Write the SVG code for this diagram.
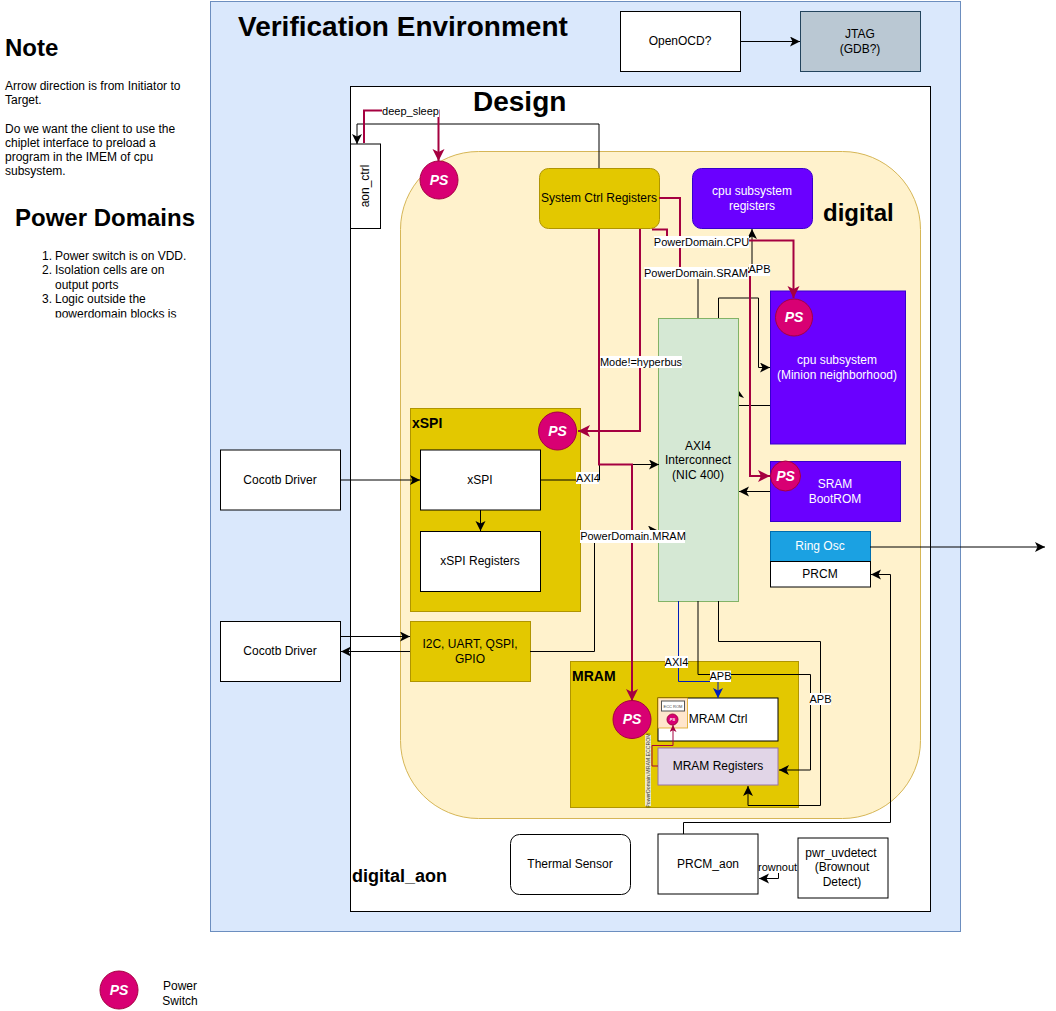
<svg xmlns="http://www.w3.org/2000/svg" width="1056" height="1011" viewBox="0 0 1056 1011">
<defs>
<marker id="a" markerUnits="userSpaceOnUse" markerWidth="12" markerHeight="12" refX="10" refY="5" orient="auto"><path d="M0 0L10 5L0 10L2.500 5Z" fill="#000"/></marker>
<marker id="ab" markerUnits="userSpaceOnUse" markerWidth="12" markerHeight="12" refX="10" refY="5" orient="auto"><path d="M0 0L10 5L0 10L2.500 5Z" fill="#001DBC"/></marker>
<marker id="r" markerUnits="userSpaceOnUse" markerWidth="14" markerHeight="14" refX="12" refY="6" orient="auto"><path d="M0 0L12 6L0 12L3 6Z" fill="#A50040"/></marker>
<marker id="rs" markerUnits="userSpaceOnUse" markerWidth="8" markerHeight="8" refX="7" refY="3.500" orient="auto"><path d="M0 0L7 3.500L0 7L1.800 3.500Z" fill="#A50040"/></marker>
<clipPath id="list-clip"><rect x="0" y="240" width="210" height="77.500"/></clipPath>
</defs>
<style>
text{font-family:"Liberation Sans",Arial,sans-serif;font-size:12px;fill:#000;text-anchor:middle}
.h{font-weight:bold;text-anchor:start}
.w{fill:#fff}
.s{text-anchor:start}
.k{fill:none;stroke:#000;stroke-width:1}
.b{fill:#fff;stroke:#000;stroke-width:1}
.y{fill:#e3c800;stroke:#B09500;stroke-width:1}
.p{fill:#6a00ff;stroke:#3700CC;stroke-width:1}
.r{fill:none;stroke:#A50040;stroke-width:2}
.lb{fill:#fff}
.l{font-size:11px}
.ps{fill:#d80073;stroke:#A50040;stroke-width:1}
.pt{fill:#fff;font-weight:bold;font-style:italic;font-size:14px}
</style>
<g id="verification-env"><rect x="210.500" y="1.500" width="750" height="930" fill="#dae8fc" stroke="#6c8ebf"/><text class="h" x="238" y="36" style="font-size:28px">Verification Environment</text></g>
<g id="design"><rect x="350.500" y="86.500" width="580" height="825" fill="#fff" stroke="#000"/><text class="h" x="473" y="111" style="font-size:28px">Design</text></g>
<g id="digital"><rect x="400.500" y="151.500" width="520" height="667" rx="78" fill="#fff2cc" stroke="#d6b656"/><text class="h" x="823" y="221" style="font-size:24px">digital</text></g>
<text class="h" x="352" y="882" style="font-size:18px">digital_aon</text>

<g id="note"><text class="h" x="5" y="56" style="font-size:24px">Note</text>
<text class="s" x="5" y="90">Arrow direction is from Initiator to</text><text class="s" x="5" y="104">Target.</text>
<text class="s" x="5" y="133">Do we want the client to use the</text><text class="s" x="5" y="147">chiplet interface to preload a</text><text class="s" x="5" y="161">program in the IMEM of cpu</text><text class="s" x="5" y="175">subsystem.</text></g>
<g id="power-domains"><text class="h" x="15" y="226" style="font-size:24px">Power Domains</text>
<g clip-path="url(#list-clip)">
<text class="s" x="42" y="260">1.<tspan x="55">Power switch is on VDD.</tspan></text><text class="s" x="42" y="274">2.<tspan x="55">Isolation cells are on</tspan></text><text class="s" x="55" y="289">output ports</text><text class="s" x="42" y="303">3.<tspan x="55">Logic outside the</tspan></text><text class="s" x="55" y="318">powerdomain blocks is</text></g></g>

<g id="openocd"><rect class="b" x="620.500" y="11.500" width="120" height="60"/><text x="680" y="45">OpenOCD?</text></g>
<g id="jtag"><rect x="800.500" y="11.500" width="120" height="60" fill="#bac8d3" stroke="#23445d"/><text x="860" y="38">JTAG</text><text x="860" y="53">(GDB?)</text></g>
<g id="aon-ctrl"><rect class="b" x="350.500" y="144" width="30" height="84.500"/><text transform="translate(369 186) rotate(-90)">aon_ctrl</text></g>
<g id="sys-ctrl"><rect class="y" x="539.500" y="168.500" width="120" height="60" rx="9"/><text x="599" y="202">System Ctrl Registers</text></g>
<g id="cpu-regs"><rect class="p" x="692.500" y="168.500" width="120" height="60" rx="9"/><text class="w" x="752" y="195">cpu subsystem</text><text class="w" x="752" y="210">registers</text></g>
<g id="cpu"><rect class="p" x="770.500" y="291" width="135" height="153"/><text class="w" x="837" y="364">cpu subsystem</text><text class="w" x="837" y="379">(Minion neighborhood)</text></g>
<g id="sram"><rect class="p" x="770.500" y="461.500" width="130" height="60"/><text class="w" x="835" y="488">SRAM</text><text class="w" x="835" y="503">BootROM</text></g>
<g id="ring-osc"><rect x="770.500" y="531.500" width="100" height="30" fill="#1ba1e2" stroke="#006EAF"/><text class="w" x="820" y="550">Ring Osc</text></g>
<g id="prcm"><rect class="b" x="770.500" y="561.500" width="100" height="25.500"/><text x="820" y="578">PRCM</text></g>
<g id="axi"><rect x="658.500" y="318.500" width="80" height="283" fill="#d5e8d4" stroke="#82b366"/><text x="698" y="450">AXI4</text><text x="698" y="464">Interconnect</text><text x="698" y="479">(NIC 400)</text></g>
<g id="xspi-block"><rect class="y" x="410.500" y="408.500" width="170" height="203"/><text class="h" x="412" y="428" style="font-size:14px">xSPI</text></g>
<g id="xspi"><rect class="b" x="420.500" y="450" width="120" height="60"/><text x="480" y="484">xSPI</text></g>
<g id="xspi-regs"><rect class="b" x="420.500" y="531.500" width="120" height="60"/><text x="480" y="565">xSPI Registers</text></g>
<g id="cocotb-1"><rect class="b" x="220.500" y="450" width="120" height="60"/><text x="280" y="484">Cocotb Driver</text></g>
<g id="cocotb-2"><rect class="b" x="220.500" y="621.500" width="120" height="60"/><text x="280" y="655">Cocotb Driver</text></g>
<g id="periph"><rect class="y" x="410.500" y="621.500" width="120" height="60"/><text x="470" y="648">I2C, UART, QSPI,</text><text x="470" y="663">GPIO</text></g>
<g id="mram-block"><rect class="y" x="570.500" y="661.500" width="228" height="146"/><text class="h" x="572" y="681" style="font-size:14px">MRAM</text></g>
<g id="mram-ctrl"><rect class="b" x="658" y="698" width="120" height="43"/><text x="718" y="723">MRAM Ctrl</text></g>
<g id="ecc-box"><rect x="658" y="698" width="29.500" height="30" fill="#ffe6cc" stroke="#d79b00" stroke-opacity=".7"/><rect x="661.500" y="701" width="23" height="10" fill="#fff" stroke="#555"/><text x="673" y="707.500" style="font-size:4px;fill:#444">ECC ROM</text></g>
<g id="mram-regs"><rect x="658" y="748" width="120" height="37" fill="#e1d5e7" stroke="#9673a6"/><text x="718" y="770">MRAM Registers</text></g>
<g id="thermal"><rect class="b" x="510.500" y="834.500" width="120" height="60" rx="9"/><text x="570" y="868">Thermal Sensor</text></g>

<g id="connectors">
<path class="k" d="M740.500 41.500H800" marker-end="url(#a)"/>
<path class="k" d="M599 168V124H357V144" marker-end="url(#a)"/>
<path class="k" d="M340 480H420" marker-end="url(#a)"/>
<path class="k" d="M480.500 510V531" marker-end="url(#a)"/>
<path class="k" d="M340 636.500H410" marker-end="url(#a)"/>
<path class="k" d="M410 651.500H341" marker-end="url(#a)"/>
<path class="k" d="M540 480H599.500V464.500H659" marker-end="url(#a)"/>
<path class="k" d="M530 651.500H594.500V530.500H658" marker-end="url(#a)"/>
<path class="k" d="M698 318V268H752V229" marker-end="url(#a)"/>
<path class="k" d="M718.500 318V298H758.500V367.500H770" marker-end="url(#a)"/>
<path class="k" d="M770 405.500H739"/>
<path d="M739 391L744 398L741 397L739 396Z" fill="#000"/>
<path class="k" d="M770 491.500H739" marker-end="url(#a)"/>
<path class="k" d="M870 547H1045" marker-end="url(#a)"/>
<path class="k" d="M683.500 834V822.500H890.500V574.500H871" marker-end="url(#a)"/>
<path class="k" d="M698 601V674.500H810.500V770H779" marker-end="url(#a)"/>
<path class="k" d="M718.500 601V641.500H820.500V805.500H748V786" marker-end="url(#a)"/>
<path fill="none" stroke="#001DBC" d="M678.500 601V681.500H718V698" marker-end="url(#ab)"/>
<path class="k" d="M798 868H778.500V878.500H759" marker-end="url(#a)"/>
<path class="r" d="M364 143V110.500H438.500V161" marker-end="url(#r)"/>
<path class="r" d="M599 229V464.500H632V701" marker-end="url(#r)"/>
<path class="r" d="M640 229V431H578" marker-end="url(#r)"/>
<path class="r" d="M652 229.500H667V240.500H793.500V298" marker-end="url(#r)"/>
<path class="r" d="M659 198H680V272H750V476H770" marker-end="url(#r)"/>
<path fill="none" stroke="#A50040" d="M658 766H652V745.500H673V725" marker-end="url(#rs)"/>
</g>
<g id="labels">
<rect class="lb" x="382" y="105" width="57" height="12"/><text class="l" x="410.500" y="115">deep_sleep</text>
<rect class="lb" x="654" y="236" width="95" height="12"/><text class="l" x="701.500" y="246">PowerDomain.CPU</text>
<rect class="lb" x="644" y="267" width="104" height="12"/><text class="l" x="696" y="277">PowerDomain.SRAM</text>
<rect class="lb" x="749" y="264" width="21" height="12"/><text class="l" x="759.500" y="273">APB</text>
<rect class="lb" x="600" y="356" width="82" height="12"/><text class="l" x="641" y="366">Mode!=hyperbus</text>
<rect class="lb" x="576" y="472" width="23" height="12"/><text class="l" x="588" y="482">AXI4</text>
<rect class="lb" x="580" y="530" width="105" height="13"/><text class="l" x="633" y="540">PowerDomain.MRAM</text>
<rect class="lb" x="665" y="656" width="23" height="12"/><text class="l" x="676.500" y="666">AXI4</text>
<rect class="lb" x="710" y="670.500" width="21" height="11.500"/><text class="l" x="720.500" y="680">APB</text>
<rect class="lb" x="810" y="693" width="21" height="12"/><text class="l" x="820.500" y="703">APB</text>
<rect class="lb" x="752" y="861" width="46" height="12"/><text class="l" x="774.500" y="871">brownout</text>
<rect x="645" y="735" width="6" height="71" fill="#eee" opacity=".85"/><text transform="translate(650 770.500) rotate(-90)" style="font-size:5.200px;fill:#333">PowerDomain.MRAM.ECCROM</text>
</g>
<g id="prcm-aon"><rect class="b" x="658" y="834" width="100" height="60"/><text x="708" y="868">PRCM_aon</text></g>
<g id="uvdetect"><rect class="b" x="798" y="838" width="90" height="60"/><text x="841" y="857">pwr_uvdetect</text><text x="842" y="871">(Brownout</text><text x="842" y="886">Detect)</text></g>
<g id="power-switches">
<g id="ps-main"><circle class="ps" cx="439" cy="180" r="19"/><text class="pt" x="439" y="185">PS</text></g>
<g id="ps-cpu"><circle class="ps" cx="794" cy="317.500" r="18.500"/><text class="pt" x="794" y="322">PS</text></g>
<g id="ps-sram"><circle class="ps" cx="785.500" cy="476" r="15"/><text class="pt" x="785.500" y="481">PS</text></g>
<g id="ps-xspi"><circle class="ps" cx="557.500" cy="431" r="19"/><text class="pt" x="557.500" y="436">PS</text></g>
<g id="ps-mram"><circle class="ps" cx="632" cy="719.500" r="19"/><text class="pt" x="632" y="724">PS</text></g>
<g id="ps-ecc"><circle class="ps" cx="672.500" cy="719.500" r="5.500"/><text class="pt" x="672.500" y="721" style="font-size:4px">PS</text></g>
<g id="ps-legend"><circle class="ps" cx="119" cy="990" r="19"/><text class="pt" x="119" y="995">PS</text></g>
</g>
<g id="legend-label"><text x="180" y="990">Power</text><text x="180" y="1005">Switch</text></g>
</svg>
